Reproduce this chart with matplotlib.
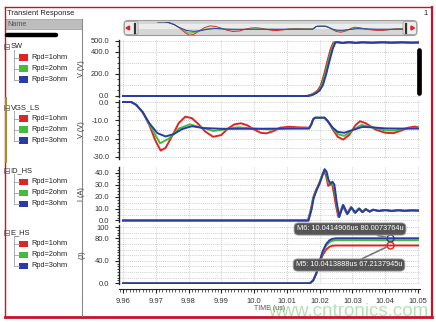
import numpy as np
import matplotlib.pyplot as plt
from matplotlib.patches import Rectangle, FancyBboxPatch, Polygon
from matplotlib.ticker import MultipleLocator

plt.rcParams['font.family'] = ['Liberation Sans', 'DejaVu Sans']

# ---- data (time in us) ----
series_names = ['Rpd=1ohm', 'Rpd=2ohm', 'Rpd=3ohm']
colors = ['#e02424', '#44bb3c', '#2a3aa8']
groups = ['SW', 'VGS_LS', 'ID_HS', 'E_HS']

sw_t_red = [9.960, 10.0160, 10.0174, 10.0184, 10.0194, 10.0204, 10.0214, 10.0224, 10.0234, 10.0242, 10.0250, 10.027, 10.029, 10.031, 10.033, 10.036, 10.039, 10.042, 10.045, 10.048, 10.050]
sw_red = [0, 0, 12, 28, 50, 100, 200, 320, 430, 486, 490, 483, 489, 482, 488, 485, 489, 484, 488, 485, 487]
sw_t_green = [9.960, 10.0163, 10.0177, 10.0187, 10.0197, 10.0207, 10.0217, 10.0227, 10.0237, 10.0245, 10.0252, 10.027, 10.029, 10.031, 10.033, 10.036, 10.039, 10.042, 10.045, 10.048, 10.050]
sw_green = [0, 0, 12, 28, 50, 100, 200, 320, 430, 486, 490, 482, 488, 483, 489, 484, 488, 485, 487, 484, 486]
sw_t_blue = [9.960, 10.0166, 10.0180, 10.0190, 10.0200, 10.0210, 10.0220, 10.0230, 10.0240, 10.0248, 10.0255, 10.027, 10.029, 10.031, 10.033, 10.036, 10.039, 10.042, 10.045, 10.048, 10.050]
sw_blue = [0, 0, 12, 28, 50, 100, 200, 320, 430, 486, 490, 482, 489, 483, 488, 484, 488, 485, 488, 485, 486]

vgs_t_red = [9.960, 9.9625, 9.964, 9.966, 9.968, 9.970, 9.9715, 9.973, 9.975, 9.977, 9.979, 9.981, 9.983, 9.985, 9.9875, 9.990, 9.992, 9.994, 9.996, 9.998, 10.000, 10.002, 10.0038, 10.006, 10.008, 10.0108, 10.013, 10.0168, 10.0175, 10.018, 10.0186, 10.0215, 10.0225, 10.024, 10.0255, 10.0272, 10.029, 10.031, 10.0323, 10.034, 10.037, 10.040, 10.0425, 10.045, 10.047, 10.049, 10.050]
vgs_red = [0, 0, -1.5, -5.5, -12.5, -21.5, -26.5, -25, -18.5, -11.5, -8, -8.8, -12, -16, -19, -18, -14.5, -12.2, -11.6, -12.8, -15, -16.8, -17.1, -15.8, -14, -13.5, -13.8, -14, -12, -9.5, -8.7, -8.7, -10.5, -15, -19, -20.5, -18, -12.5, -10.5, -11.5, -15, -16.8, -17, -15.5, -14, -13.4, -13.8]
vgs_t_green = [9.960, 9.9625, 9.964, 9.966, 9.968, 9.9713, 9.974, 9.977, 9.9804, 9.983, 9.9875, 9.991, 9.995, 10.000, 10.005, 10.010, 10.0168, 10.0175, 10.018, 10.0186, 10.0215, 10.0225, 10.024, 10.0255, 10.0275, 10.030, 10.0328, 10.036, 10.040, 10.043, 10.046, 10.050]
vgs_green = [0, 0, -1.5, -5.5, -12, -22.5, -20, -14.5, -12.2, -13.5, -15.8, -15, -13.8, -14.5, -15, -14.3, -14.2, -12, -9.5, -8.6, -8.6, -10.5, -14.5, -17.5, -18.5, -15.5, -12.5, -13.8, -15.5, -15.6, -14.5, -14]
vgs_t_blue = [9.960, 9.9625, 9.964, 9.966, 9.968, 9.9705, 9.973, 9.9755, 9.978, 9.981, 9.9845, 9.990, 10.000, 10.010, 10.0168, 10.0175, 10.018, 10.0186, 10.0215, 10.0225, 10.024, 10.0255, 10.0275, 10.030, 10.033, 10.036, 10.040, 10.045, 10.050]
vgs_blue = [0, 0, -1.5, -5.5, -11.5, -17, -18.8, -17.5, -14.8, -13.2, -14.2, -14.6, -14.6, -14.5, -14.5, -12, -9.5, -8.5, -8.5, -10.5, -14, -16.3, -16.8, -15.3, -13.6, -13.8, -14.4, -14.5, -14.5]

id_t_red = [9.960, 10.0164, 10.0173, 10.0180, 10.0188, 10.0198, 10.0208, 10.0213, 10.0219, 10.0226, 10.0232, 10.0238, 10.0244, 10.0250, 10.0257, 10.0270, 10.0283, 10.0295, 10.0307, 10.0319, 10.0330, 10.0340, 10.0352, 10.0363, 10.038, 10.040, 10.042, 10.044, 10.046, 10.048, 10.050]
id_red = [0, 0, 9, 19, 25, 31, 38, 41, 38, 29, 30, 30.5, 22, 12, 3, 12.5, 5.5, 11, 6.5, 10, 7, 9.5, 7.5, 9, 8, 8.7, 8, 8.6, 8.1, 8.5, 8.3]
id_t_green = [9.960, 10.0165, 10.0174, 10.0181, 10.0189, 10.0199, 10.0209, 10.0214, 10.0220, 10.0226, 10.0232, 10.0238, 10.0244, 10.0251, 10.0259, 10.0271, 10.0284, 10.0296, 10.0308, 10.0320, 10.0330, 10.0340, 10.0352, 10.0363, 10.038, 10.040, 10.042, 10.044, 10.046, 10.048, 10.050]
id_green = [0, 0, 9, 19, 25, 31, 39, 42, 40, 32, 31, 31.5, 28, 15, 3, 13, 5.5, 11, 6.5, 10, 7, 9.5, 7.5, 9, 8, 8.7, 8, 8.6, 8.1, 8.5, 8.3]
id_t_blue = [9.960, 10.0166, 10.0175, 10.0182, 10.0190, 10.0200, 10.0210, 10.0215, 10.0221, 10.0227, 10.0233, 10.0239, 10.0245, 10.0252, 10.0260, 10.0272, 10.0285, 10.0297, 10.0309, 10.0321, 10.0331, 10.0341, 10.0353, 10.0364, 10.038, 10.040, 10.042, 10.044, 10.046, 10.048, 10.050]
id_blue = [0, 0, 9, 19, 25, 31, 39, 43, 41, 34, 31, 32.5, 30, 15, 3, 13, 5.5, 11, 6.5, 10, 7, 9.5, 7.5, 9, 8, 8.7, 8, 8.6, 8.1, 8.5, 8.3]

e_t = [9.960, 10.017, 10.018, 10.019, 10.020, 10.021, 10.022, 10.023, 10.024, 10.025, 10.026, 10.050]
e_red = [0, 0, 5, 17.5, 37, 51, 60, 65, 66.8, 67.2, 67.2, 67.2]
e_green = [0, 0, 5, 18, 39, 56, 67, 73, 75.8, 76.5, 76.6, 76.6]
e_blue = [0, 0, 5, 18, 40, 58, 70, 76.5, 79.2, 79.9, 80.0, 80.0]

marker_names = ['M6', 'M5']
marker_t = [10.0414906, 10.0413888]
marker_v = [80.0073764, 67.2137945]
marker_colors = [colors[2], colors[0]]

x_ticks = [9.96, 9.97, 9.98, 9.99, 10.0, 10.01, 10.02, 10.03, 10.04, 10.05]
x_labels = ['9.96', '9.97', '9.98', '9.99', '10.0', '10.01', '10.02', '10.03', '10.04', '10.05']

W, H = 436, 322
fig = plt.figure(figsize=(W / 100, H / 100), dpi=100)

# background layer in pixel coords (y down)
deco = fig.add_axes([0, 0, 1, 1], zorder=0)
deco.set_xlim(0, W)
deco.set_ylim(H, 0)
deco.axis('off')

red = '#c8142a'
deco.plot([4.5, 432], [7, 7], color=red, lw=1.0)
deco.plot([4.5, 4.5], [7, 317], color=red, lw=1.0)
deco.plot([432, 432], [7, 317], color=red, lw=1.6)
deco.plot([4.5, 432], [317, 317], color=red, lw=2.0)
deco.text(7, 13, 'Transient Response', fontsize=5.4, va='center', color='#222')
deco.text(423, 13, '1', fontsize=5.4, va='center', color='#222')

# left tree panel
deco.add_patch(Rectangle((5, 19), 76.5, 10, fc='#bdbdbd', ec='#9a9a9a', lw=0.5))
deco.text(7, 24, 'Name', fontsize=5.2, va='center', color='#555')
deco.plot([81.5, 81.5], [19, 316], color='#8a8a8a', lw=0.8)
deco.plot([7, 56], [35, 35], color='black', lw=3.2, solid_capstyle='round')
deco.plot([5.5, 5.5], [98, 162], color='#a09030', lw=1.5)

group_y = [46.5, 107.5, 170.7, 232.7]
row_off = [11, 22, 33]
for g, gy in zip(groups, group_y):
    deco.add_patch(Rectangle((3.5, gy - 2.7), 5.4, 5.4, fill=False, ec='#808080', lw=0.6))
    deco.plot([4.7, 7.7], [gy, gy], color='#606060', lw=0.6)
    deco.text(10.5, gy, g, fontsize=5.4, va='center', color='#222')
    deco.plot([14, 14], [gy + 3.5, gy + row_off[-1]], color='#a0a0a0', lw=0.6)
    for name, c, off in zip(series_names, colors, row_off):
        ry = gy + off
        deco.plot([14, 19], [ry, ry], color='#a0a0a0', lw=0.6)
        deco.add_patch(Rectangle((19, ry - 3.2), 8.5, 6.4, fc=c, ec='none'))
        deco.text(31.5, ry, name, fontsize=5.3, va='center', color='#222')

# overview slider
deco.add_patch(FancyBboxPatch((124, 20.5), 293, 15, boxstyle='round,pad=0,rounding_size=4',
                              fc='#d6d6d6', ec='#9a9a9a', lw=0.8))
deco.add_patch(Rectangle((127, 24), 287, 5, fc='white', ec='none', alpha=0.55))
for hx, bx, tri in [(124.5, 135, [[126, 28], [129.5, 26], [129.5, 30]]),
                    (403, 406, [[414.5, 28], [411, 26], [411, 30]])]:
    deco.add_patch(FancyBboxPatch((hx, 21.5), 13.5, 13, boxstyle='round,pad=0,rounding_size=2',
                                  fc='#ececec', ec='#a0a0a0', lw=0.6))
    deco.plot([bx, bx], [23.5, 32.5], color='#333', lw=1.6)
    deco.add_patch(Polygon(tri, closed=True, color='#e02424'))

mini = fig.add_axes([139 / W, 1 - 35 / H, (403 - 139) / W, 13.5 / H], zorder=3)
mini.set_facecolor('none')
mini.axis('off')
for t, v, c in zip([vgs_t_red, vgs_t_green, vgs_t_blue], [vgs_red, vgs_green, vgs_blue], colors):
    mini.plot(t, v, color=c, lw=0.7)
mini.set_xlim(9.953, 10.05)
mini.set_ylim(-26, 0.8)

# ---- main panels ----
px_per_x = 295 / 0.09
xlo = 9.96 - 4 / px_per_x
xhi = 10.05 + 2 / px_per_x
grid_kw = dict(ls=(0, (1, 1.5)), color='#bcbcbc', lw=0.6)


def panel(y0, y1, ylim, yticks, ylabels, minor, grids, ylabel):
    ax = fig.add_axes([119 / W, 1 - y1 / H, 301 / W, (y1 - y0) / H], zorder=2)
    ax.set_facecolor('none')
    ax.set_xlim(xlo, xhi)
    ax.set_ylim(*ylim)
    ax.set_xticks(x_ticks)
    ax.grid(axis='x', **grid_kw)
    for gv in grids:
        ax.axhline(gv, zorder=0, **grid_kw)
    ax.set_yticks(yticks)
    ax.set_yticklabels(ylabels)
    ax.yaxis.set_minor_locator(MultipleLocator(minor))
    ax.tick_params(axis='y', which='major', direction='out', length=3, width=0.8,
                   labelsize=5.4, pad=4, colors='#222', labelcolor='#333')
    ax.tick_params(axis='y', which='minor', direction='out', length=1.6, width=0.6, colors='#222')
    ax.tick_params(axis='x', length=0, labelbottom=False)
    for s in ['top', 'right', 'bottom']:
        ax.spines[s].set_visible(False)
    ax.spines['left'].set_linewidth(1.0)
    ax.spines['left'].set_color('#222')
    ax.set_ylabel(ylabel, fontsize=5.2, color='#333')
    ax.yaxis.set_label_coords(-34 / 301, 0.5)
    return ax


ax1 = panel(40, 97, (-9.1, 509), [0, 200, 400, 500], ['0.0', '200.0', '400.0', '500.0'],
            50, np.arange(0, 501, 100), 'V (V)')
ax2 = panel(100, 159, (-31.1, 1.1), [0, -10, -20, -30], ['0.0', '-10.0', '-20.0', '-30.0'],
            2.5, np.arange(-30, 1, 5), 'V (V)')
ax3 = panel(167, 222, (-1.26, 44.8), [0, 10, 20, 30, 40], ['0.0', '10.0', '20.0', '30.0', '40.0'],
            2.5, np.arange(0, 41, 5), 'I (A)')
ax4 = panel(225, 284, (-1.24, 103.6), [0, 40, 80, 100], ['0.0', '40.0', '80.0', '100'],
            5, np.arange(0, 101, 10), '(J)')

sets = [
    (ax1, [sw_t_red, sw_t_green, sw_t_blue], [sw_red, sw_green, sw_blue]),
    (ax2, [vgs_t_red, vgs_t_green, vgs_t_blue], [vgs_red, vgs_green, vgs_blue]),
    (ax3, [id_t_red, id_t_green, id_t_blue], [id_red, id_green, id_blue]),
    (ax4, [e_t, e_t, e_t], [e_red, e_green, e_blue]),
]
for ax, ts, vs in sets:
    for t, v, c in zip(ts, vs, colors):
        ax.plot(t, v, color=c, lw=1.4, solid_joinstyle='round')

# bottom time ruler
ax4.spines['bottom'].set_visible(True)
ax4.spines['bottom'].set_position(('outward', 3.6))
ax4.spines['bottom'].set_color('#222')
ax4.set_xticks(x_ticks)
ax4.set_xticklabels(x_labels)
ax4.xaxis.set_minor_locator(MultipleLocator(0.001))
ax4.tick_params(axis='x', which='major', direction='out', length=3.2, width=0.8,
                labelbottom=True, labelsize=5.4, pad=3, colors='#222', labelcolor='#333')
ax4.tick_params(axis='x', which='minor', direction='out', length=1.8, width=0.5, colors='#222')
ax4.set_xlabel('TIME (us)', fontsize=5.0, labelpad=0.5, color='#555')

# markers with their readouts
box_xy = [(350, H - 229), (349, H - 265)]
for name, t, v, c, bxy in zip(marker_names, marker_t, marker_v, marker_colors, box_xy):
    ax4.plot(t, v, 'o', mfc='none', mec=c, ms=5, mew=1.0, zorder=5)
    ax4.annotate(f'{name}: {t:.7f}us {v:.7f}u', xy=(t, v), xytext=bxy,
                 textcoords='figure pixels', ha='center', va='center',
                 fontsize=5.3, color='white', annotation_clip=False, zorder=6,
                 bbox=dict(boxstyle='round,pad=0.35,rounding_size=0.6', fc='#555555', ec='#9a9a9a', lw=0.6),
                 arrowprops=dict(arrowstyle='-', color='#7a7a7a', lw=1.2, shrinkA=0, shrinkB=3))

# overlay layer: scroll thumb on the right and the watermark
top = fig.add_axes([0, 0, 1, 1], zorder=5)
top.set_xlim(0, W)
top.set_ylim(H, 0)
top.axis('off')
top.plot([419, 419], [50, 93], color='black', lw=3.4, solid_capstyle='round')
top.text(428, 316, 'www.cntronics.com', fontsize=13.5, ha='right', va='baseline',
         color='#78c878', alpha=0.55)

fig.savefig('out.png', dpi=100)
